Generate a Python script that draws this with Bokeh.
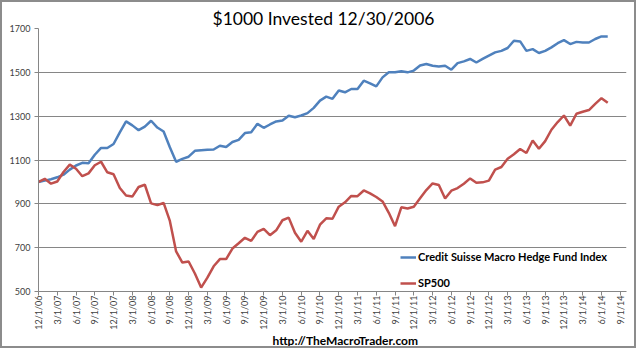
from bokeh.plotting import figure
from bokeh.models import FixedTicker, Legend, LegendItem, Title, Range1d
from bokeh.embed import file_html
from bokeh.resources import INLINE

# ---- data ----
tick_labels = ["12/1/06", "3/1/07", "6/1/07", "9/1/07", "12/1/07", "3/1/08", "6/1/08", "9/1/08",
               "12/1/08", "3/1/09", "6/1/09", "9/1/09", "12/1/09", "3/1/10", "6/1/10", "9/1/10",
               "12/1/10", "3/1/11", "6/1/11", "9/1/11", "12/1/11", "3/1/12", "6/1/12", "9/1/12",
               "12/1/12", "3/1/13", "6/1/13", "9/1/13", "12/1/13", "3/1/14", "6/1/14", "9/1/14"]
tick_months = list(range(0, 94, 3))

credit_suisse = [1000, 1006, 1012, 1021, 1033, 1056, 1075, 1087, 1085, 1124, 1155, 1155,
                 1173, 1226, 1276, 1258, 1236, 1252, 1279, 1248, 1230, 1158, 1092, 1105,
                 1115, 1142, 1145, 1147, 1148, 1165, 1159, 1182, 1192, 1223, 1227, 1265,
                 1247, 1262, 1276, 1280, 1302, 1295, 1303, 1314, 1338, 1371, 1389, 1379,
                 1417, 1409, 1424, 1424, 1462, 1450, 1436, 1477, 1500, 1500, 1505, 1500,
                 1508, 1531, 1538, 1530, 1527, 1530, 1512, 1542, 1550, 1561, 1545, 1561,
                 1576, 1591, 1598, 1611, 1644, 1641, 1598, 1606, 1588, 1598, 1614, 1633,
                 1647, 1629, 1639, 1636, 1636, 1652, 1664, 1664]

sp500 = [1000, 1014, 992, 1002, 1045, 1079, 1060, 1026, 1039, 1076, 1092, 1044, 1035,
         972, 938, 933, 977, 987, 902, 894, 904, 822, 683, 632, 637,
         582, 518, 563, 615, 648, 648, 696, 720, 745, 731, 772, 786,
         757, 779, 825, 837, 768, 727, 777, 740, 805, 834, 832, 887,
         907, 936, 935, 961, 948, 931, 911, 859, 798, 884, 879, 887,
         925, 963, 993, 986, 924, 960, 972, 992, 1016, 996, 998, 1006,
         1056, 1068, 1106, 1126, 1150, 1132, 1189, 1151, 1186, 1238, 1273, 1303,
         1257, 1311, 1320, 1328, 1356, 1382, 1361]

months = list(range(len(sp500)))

title_text = "$1000 Invested 12/30/2006"
footer_text = "http://TheMacroTrader.com"

FONT = "Lato"
AXIS_GRAY = "#868686"

p = figure(width=636, height=348, output_backend="svg", toolbar_location=None,
           x_range=Range1d(0, 94), y_range=Range1d(500, 1700),
           min_border_left=36, min_border_right=12, min_border_top=26, min_border_bottom=59)
p.styles = {"border": "2px solid #8c8c8c"}
p.outline_line_color = None
p.background_fill_color = "white"
p.border_fill_color = "white"

# title
p.title.text = title_text
p.title.text_font = FONT
p.title.text_font_size = "17.5px"
p.title.text_font_style = "normal"
p.title.text_color = "#000000"
p.title.align = "left"
p.title.offset = 174
p.title.vertical_align = "bottom"
p.title.standoff = 0

# footer
footer = Title(text=footer_text, align="left", offset=234, vertical_align="top",
               text_font=FONT, text_font_size="12px", text_font_style="bold",
               text_color="#000000", standoff=0)
p.add_layout(footer, "below")

# lines
r_cs = p.line(months, credit_suisse, line_color="#4F81BD", line_width=2.5)
r_sp = p.line(months, sp500, line_color="#C0504D", line_width=2.5)

# axes
p.xaxis.ticker = FixedTicker(ticks=tick_months)
p.xaxis.major_label_overrides = {m: lab for m, lab in zip(tick_months, tick_labels)}
p.xaxis.major_label_orientation = 1.5708
p.xaxis.minor_tick_line_color = None
p.xaxis.major_tick_in = 0
p.xaxis.major_tick_out = 4
p.xaxis.major_label_standoff = 0
p.xaxis.axis_label = None
p.xaxis.axis_label_standoff = 0
p.xaxis.axis_line_color = AXIS_GRAY
p.xaxis.major_tick_line_color = AXIS_GRAY
p.xaxis.major_label_text_font = FONT
p.xaxis.major_label_text_font_size = "9px"
p.xaxis.major_label_text_color = "#404040"

p.yaxis.ticker = FixedTicker(ticks=[500, 700, 900, 1100, 1300, 1500, 1700])
p.yaxis.minor_tick_line_color = None
p.yaxis.major_tick_in = 0
p.yaxis.major_tick_out = 4
p.yaxis.major_label_standoff = 4
p.yaxis.axis_line_color = AXIS_GRAY
p.yaxis.major_tick_line_color = AXIS_GRAY
p.yaxis.major_label_text_font = FONT
p.yaxis.major_label_text_font_size = "9px"
p.yaxis.major_label_text_color = "#404040"

p.xgrid.grid_line_color = None
p.ygrid.ticker = FixedTicker(ticks=[700, 900, 1100, 1300, 1500, 1700])
p.ygrid.grid_line_color = AXIS_GRAY
p.ygrid.grid_line_width = 1

legend = Legend(items=[LegendItem(label="Credit Suisse Macro Hedge Fund Index", renderers=[r_cs]),
                       LegendItem(label="SP500", renderers=[r_sp])],
                location=(362, 2), orientation="vertical",
                glyph_width=16, glyph_height=12, label_height=12, label_standoff=2,
                spacing=13, padding=0, margin=0,
                label_text_font=FONT, label_text_font_size="11px",
                label_text_font_style="bold", label_text_color="#000000",
                border_line_color=None, background_fill_alpha=0)
p.add_layout(legend, "center")

open("out.html", "w").write(file_html(p, INLINE))
